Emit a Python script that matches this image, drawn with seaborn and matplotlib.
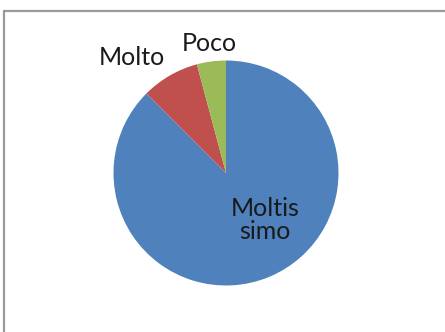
import matplotlib
matplotlib.use("Agg")
import matplotlib.pyplot as plt
import seaborn as sns

# survey answers (counts)
categories = ["Moltissimo", "Molto", "Poco"]
counts = [21, 2, 1]
label_text = ["Moltis\nsimo", "Molto", "Poco"]

sns.set_theme(style="white")
plt.rcParams['font.family'] = ['Lato', 'DejaVu Sans']

colors = ["#4F81BD", "#C0504D", "#9BBB59"]

fig = plt.figure(figsize=(4.45, 3.32), dpi=100)
fig.patch.set_facecolor("white")

# pie sits centred near (226, 173) px with radius ~112 px
W, H = 445, 332
cx, cy, r = 226, 173, 112.5
ax = fig.add_axes([(cx - r) / W, (H - cy - r) / H, 2 * r / W, 2 * r / H])

wedges, _ = ax.pie(counts, colors=colors, startangle=90, counterclock=False,
                   wedgeprops=dict(linewidth=0))
ax.set_xlim(-1, 1)
ax.set_ylim(-1, 1)
ax.axis("off")

# label spots in pie units (radius = 1)
label_pos = [(0.35, -0.42), (-0.84, 1.03), (-0.15, 1.155)]
for txt, (x, y) in zip(label_text, label_pos):
    ax.text(x, y, txt, ha="center", va="center", fontsize=18,
            color="#1a1a1a", linespacing=1.0, clip_on=False)

# chart frame: only the top and left edges show in the crop
fig.add_artist(plt.Line2D([4 / W, 4 / W], [0, 1 - 11 / H], transform=fig.transFigure,
                          color="#9a9a9a", linewidth=1.6))
fig.add_artist(plt.Line2D([4 / W, 1], [1 - 11 / H, 1 - 11 / H], transform=fig.transFigure,
                          color="#9a9a9a", linewidth=1.6))

fig.savefig("out.png", dpi=100)
